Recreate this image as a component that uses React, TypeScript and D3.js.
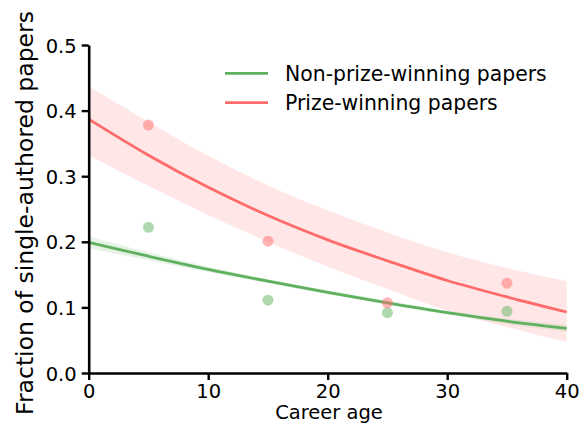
import React, { useEffect, useRef } from 'react';
import * as d3 from 'd3';

// --- data ---
const careerAge = [0, 5, 10, 15, 20, 25, 30, 35, 40];

const prizeFit = [0.387, 0.332, 0.283, 0.240, 0.203, 0.171, 0.141, 0.116, 0.093];
const prizeUpper = [0.437, 0.383, 0.331, 0.286, 0.248, 0.214, 0.184, 0.160, 0.140];
const prizeLower = [0.332, 0.285, 0.241, 0.200, 0.162, 0.128, 0.095, 0.070, 0.047];

const nonFit = [0.199, 0.178, 0.158, 0.140, 0.123, 0.107, 0.092, 0.079, 0.068];
const nonUpper = [0.208, 0.184, 0.162, 0.143, 0.126, 0.110, 0.095, 0.083, 0.073];
const nonLower = [0.190, 0.172, 0.154, 0.137, 0.120, 0.104, 0.089, 0.075, 0.063];

const binAge = [5, 15, 25, 35];
const prizeObs = [0.378, 0.201, 0.107, 0.137];
const nonObs = [0.222, 0.111, 0.092, 0.094];

const xTicks = [0, 10, 20, 30, 40];
const yTicks = [0.0, 0.1, 0.2, 0.3, 0.4, 0.5];

const RED = '#ff6b6b';
const GREEN = '#5fb15f';

const W = 580;
const H = 426;
const FONT = '"DejaVu Sans", sans-serif';

const Chart: React.FC = () => {
    const svgRef = useRef<SVGSVGElement>(null);

    useEffect(() => {
        if (!svgRef.current) return;
        const svg = d3.select(svgRef.current);
        svg.selectAll('*').remove();

        const x = d3.scaleLinear().domain([0, 40]).range([88.7, 566.7]);
        const y = d3.scaleLinear().domain([0, 0.5]).range([373, 45]);

        const series = [
            { fit: nonFit, upper: nonUpper, lower: nonLower, obs: nonObs, color: GREEN },
            { fit: prizeFit, upper: prizeUpper, lower: prizeLower, obs: prizeObs, color: RED },
        ];

        const area = d3.area<number>()
            .x((_, i) => x(careerAge[i]))
            .curve(d3.curveCatmullRom);

        const line = d3.line<number>()
            .x((_, i) => x(careerAge[i]))
            .y(d => y(d))
            .curve(d3.curveCatmullRom);

        // confidence bands
        series.forEach(s => {
            svg.append('path')
                .datum(s.fit)
                .attr('d', area.y0((_, i) => y(s.lower[i])).y1((_, i) => y(s.upper[i])))
                .attr('fill', s.color)
                .attr('fill-opacity', 0.16);
        });

        // fitted curves
        series.forEach(s => {
            svg.append('path')
                .datum(s.fit)
                .attr('d', line)
                .attr('fill', 'none')
                .attr('stroke', s.color)
                .attr('stroke-width', 2.8);
        });

        // binned observations
        series.forEach(s => {
            svg.append('g')
                .selectAll('circle')
                .data(s.obs)
                .join('circle')
                .attr('cx', (_, i) => x(binAge[i]))
                .attr('cy', d => y(d))
                .attr('r', 5.5)
                .attr('fill', s.color)
                .attr('fill-opacity', 0.5);
        });

        // axes
        const xAxis = svg.append('g')
            .attr('transform', `translate(0,${y(0)})`)
            .call(d3.axisBottom(x).tickValues(xTicks).tickFormat(d3.format('d')).tickSizeInner(7).tickSizeOuter(0).tickPadding(3));
        const yAxis = svg.append('g')
            .attr('transform', `translate(${x(0)},0)`)
            .call(d3.axisLeft(y).tickValues(yTicks).tickFormat(d3.format('.1f')).tickSizeInner(7).tickSizeOuter(0).tickPadding(5));

        [xAxis, yAxis].forEach(a => {
            a.select('.domain').attr('stroke', '#000').attr('stroke-width', 2.6);
            a.selectAll('.tick line').attr('stroke', '#000').attr('stroke-width', 2.4);
            a.selectAll('.tick text')
                .attr('fill', '#000')
                .style('font-family', FONT)
                .style('font-size', '19.5px');
        });
        xAxis.selectAll('.tick text').attr('dy', '0.75em');
        yAxis.selectAll('.tick text').attr('dy', '0.36em');

        svg.append('text')
            .attr('x', 329)
            .attr('y', 419)
            .attr('text-anchor', 'middle')
            .style('font-family', FONT)
            .style('font-size', '19.5px')
            .text('Career age');

        svg.append('text')
            .attr('transform', 'translate(33,213) rotate(-90)')
            .attr('text-anchor', 'middle')
            .style('font-family', FONT)
            .style('font-size', '23.5px')
            .text('Fraction of single-authored papers');

        // legend
        const legendItems = [
            { label: 'Non-prize-winning papers', color: GREEN },
            { label: 'Prize-winning papers', color: RED },
        ];
        const legend = svg.append('g').attr('transform', 'translate(225,73.3)');
        legendItems.forEach((item, i) => {
            const row = legend.append('g').attr('transform', `translate(0,${i * 29.4})`);
            row.append('line')
                .attr('x1', 0).attr('x2', 43)
                .attr('stroke', item.color)
                .attr('stroke-width', 2.8);
            row.append('text')
                .attr('x', 60)
                .attr('dy', '0.36em')
                .style('font-family', FONT)
                .style('font-size', '20.4px')
                .text(item.label);
        });
    }, []);

    return <svg ref={svgRef} width={W} height={H} style={{ display: 'block', background: '#fff' }} />;
};

export default function App() {
    return (
        <div style={{ position: 'absolute', left: 0, top: 0, width: W, height: H, background: '#fff' }}>
            <Chart />
        </div>
    );
}
